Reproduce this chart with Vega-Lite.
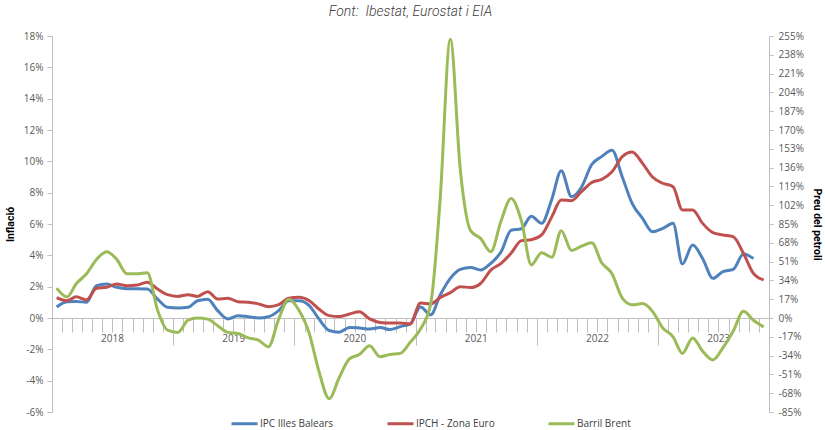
{
  "$schema": "https://vega.github.io/schema/vega-lite/v6.json",
  "width": 717,
  "height": 376,
  "autosize": {"type": "none"},
  "padding": {"left": 52, "top": 36, "right": 56, "bottom": 18},
  "background": "white",
  "title": {
    "text": "Font:\u00a0 Ibestat, Eurostat i EIA",
    "font": "Roboto",
    "fontSize": 14,
    "fontStyle": "italic",
    "fontWeight": 300,
    "color": "#404040",
    "anchor": "middle",
    "offset": 12
  },
  "config": {
    "view": {"stroke": null},
    "axis": {
      "labelFont": "Open Sans",
      "labelFontSize": 10,
      "labelColor": "#595959",
      "domainColor": "#bfbfbf",
      "tickColor": "#bfbfbf",
      "grid": false
    }
  },
  "data": {
    "values": [
      {"mes": "2018-01-15", "IPC Illes Balears": 0.7, "IPCH - Zona Euro": 1.3, "Barril Brent": 27},
      {"mes": "2018-02-15", "IPC Illes Balears": 1.04, "IPCH - Zona Euro": 1.1, "Barril Brent": 19},
      {"mes": "2018-03-15", "IPC Illes Balears": 1.06, "IPCH - Zona Euro": 1.36, "Barril Brent": 31},
      {"mes": "2018-04-15", "IPC Illes Balears": 1.0, "IPCH - Zona Euro": 1.15, "Barril Brent": 40},
      {"mes": "2018-05-15", "IPC Illes Balears": 2.06, "IPCH - Zona Euro": 1.9, "Barril Brent": 53},
      {"mes": "2018-06-15", "IPC Illes Balears": 2.17, "IPCH - Zona Euro": 1.96, "Barril Brent": 60},
      {"mes": "2018-07-15", "IPC Illes Balears": 1.96, "IPCH - Zona Euro": 2.17, "Barril Brent": 53},
      {"mes": "2018-08-15", "IPC Illes Balears": 1.87, "IPCH - Zona Euro": 2.06, "Barril Brent": 40},
      {"mes": "2018-09-15", "IPC Illes Balears": 1.87, "IPCH - Zona Euro": 2.1, "Barril Brent": 40},
      {"mes": "2018-10-15", "IPC Illes Balears": 1.85, "IPCH - Zona Euro": 2.28, "Barril Brent": 41},
      {"mes": "2018-11-15", "IPC Illes Balears": 1.2, "IPCH - Zona Euro": 1.85, "Barril Brent": 7},
      {"mes": "2018-12-15", "IPC Illes Balears": 0.68, "IPCH - Zona Euro": 1.49, "Barril Brent": -11},
      {"mes": "2019-01-15", "IPC Illes Balears": 0.64, "IPCH - Zona Euro": 1.38, "Barril Brent": -13},
      {"mes": "2019-02-15", "IPC Illes Balears": 0.68, "IPCH - Zona Euro": 1.49, "Barril Brent": -2},
      {"mes": "2019-03-15", "IPC Illes Balears": 1.1, "IPCH - Zona Euro": 1.38, "Barril Brent": 0},
      {"mes": "2019-04-15", "IPC Illes Balears": 1.2, "IPCH - Zona Euro": 1.68, "Barril Brent": -1},
      {"mes": "2019-05-15", "IPC Illes Balears": 0.47, "IPCH - Zona Euro": 1.21, "Barril Brent": -7},
      {"mes": "2019-06-15", "IPC Illes Balears": -0.06, "IPCH - Zona Euro": 1.26, "Barril Brent": -13},
      {"mes": "2019-07-15", "IPC Illes Balears": 0.15, "IPCH - Zona Euro": 1.04, "Barril Brent": -14},
      {"mes": "2019-08-15", "IPC Illes Balears": 0.08, "IPCH - Zona Euro": 1.0, "Barril Brent": -18},
      {"mes": "2019-09-15", "IPC Illes Balears": 0.0, "IPCH - Zona Euro": 0.9, "Barril Brent": -20},
      {"mes": "2019-10-15", "IPC Illes Balears": 0.08, "IPCH - Zona Euro": 0.72, "Barril Brent": -26},
      {"mes": "2019-11-15", "IPC Illes Balears": 0.47, "IPCH - Zona Euro": 0.85, "Barril Brent": -1},
      {"mes": "2019-12-15", "IPC Illes Balears": 1.1, "IPCH - Zona Euro": 1.26, "Barril Brent": 17},
      {"mes": "2020-01-15", "IPC Illes Balears": 1.1, "IPCH - Zona Euro": 1.32, "Barril Brent": 7},
      {"mes": "2020-02-15", "IPC Illes Balears": 0.79, "IPCH - Zona Euro": 1.1, "Barril Brent": -14},
      {"mes": "2020-03-15", "IPC Illes Balears": -0.06, "IPCH - Zona Euro": 0.57, "Barril Brent": -48},
      {"mes": "2020-04-15", "IPC Illes Balears": -0.8, "IPCH - Zona Euro": 0.15, "Barril Brent": -73},
      {"mes": "2020-05-15", "IPC Illes Balears": -0.91, "IPCH - Zona Euro": 0.09, "Barril Brent": -54},
      {"mes": "2020-06-15", "IPC Illes Balears": -0.6, "IPCH - Zona Euro": 0.26, "Barril Brent": -37},
      {"mes": "2020-07-15", "IPC Illes Balears": -0.64, "IPCH - Zona Euro": 0.4, "Barril Brent": -33},
      {"mes": "2020-08-15", "IPC Illes Balears": -0.7, "IPCH - Zona Euro": -0.06, "Barril Brent": -25},
      {"mes": "2020-09-15", "IPC Illes Balears": -0.6, "IPCH - Zona Euro": -0.28, "Barril Brent": -35},
      {"mes": "2020-10-15", "IPC Illes Balears": -0.74, "IPCH - Zona Euro": -0.32, "Barril Brent": -33},
      {"mes": "2020-11-15", "IPC Illes Balears": -0.55, "IPCH - Zona Euro": -0.32, "Barril Brent": -32},
      {"mes": "2020-12-15", "IPC Illes Balears": -0.38, "IPCH - Zona Euro": -0.38, "Barril Brent": -22},
      {"mes": "2021-01-15", "IPC Illes Balears": 0.7, "IPCH - Zona Euro": 0.96, "Barril Brent": -10},
      {"mes": "2021-02-15", "IPC Illes Balears": 0.2, "IPCH - Zona Euro": 0.9, "Barril Brent": 13},
      {"mes": "2021-03-15", "IPC Illes Balears": 1.45, "IPCH - Zona Euro": 1.3, "Barril Brent": 106},
      {"mes": "2021-04-15", "IPC Illes Balears": 2.53, "IPCH - Zona Euro": 1.62, "Barril Brent": 252},
      {"mes": "2021-05-15", "IPC Illes Balears": 3.1, "IPCH - Zona Euro": 2.0, "Barril Brent": 134},
      {"mes": "2021-06-15", "IPC Illes Balears": 3.23, "IPCH - Zona Euro": 1.94, "Barril Brent": 79},
      {"mes": "2021-07-15", "IPC Illes Balears": 3.06, "IPCH - Zona Euro": 2.2, "Barril Brent": 72},
      {"mes": "2021-08-15", "IPC Illes Balears": 3.49, "IPCH - Zona Euro": 3.06, "Barril Brent": 60},
      {"mes": "2021-09-15", "IPC Illes Balears": 4.23, "IPCH - Zona Euro": 3.49, "Barril Brent": 88},
      {"mes": "2021-10-15", "IPC Illes Balears": 5.6, "IPCH - Zona Euro": 4.13, "Barril Brent": 108},
      {"mes": "2021-11-15", "IPC Illes Balears": 5.7, "IPCH - Zona Euro": 4.94, "Barril Brent": 88},
      {"mes": "2021-12-15", "IPC Illes Balears": 6.5, "IPCH - Zona Euro": 5.0, "Barril Brent": 48},
      {"mes": "2022-01-15", "IPC Illes Balears": 6.04, "IPCH - Zona Euro": 5.3, "Barril Brent": 59},
      {"mes": "2022-02-15", "IPC Illes Balears": 7.6, "IPCH - Zona Euro": 6.47, "Barril Brent": 55},
      {"mes": "2022-03-15", "IPC Illes Balears": 9.4, "IPCH - Zona Euro": 7.53, "Barril Brent": 79},
      {"mes": "2022-04-15", "IPC Illes Balears": 7.74, "IPCH - Zona Euro": 7.49, "Barril Brent": 61},
      {"mes": "2022-05-15", "IPC Illes Balears": 8.35, "IPCH - Zona Euro": 8.06, "Barril Brent": 65},
      {"mes": "2022-06-15", "IPC Illes Balears": 9.8, "IPCH - Zona Euro": 8.65, "Barril Brent": 68},
      {"mes": "2022-07-15", "IPC Illes Balears": 10.3, "IPCH - Zona Euro": 8.85, "Barril Brent": 50},
      {"mes": "2022-08-15", "IPC Illes Balears": 10.7, "IPCH - Zona Euro": 9.34, "Barril Brent": 40},
      {"mes": "2022-09-15", "IPC Illes Balears": 9.0, "IPCH - Zona Euro": 10.3, "Barril Brent": 18},
      {"mes": "2022-10-15", "IPC Illes Balears": 7.3, "IPCH - Zona Euro": 10.6, "Barril Brent": 12},
      {"mes": "2022-11-15", "IPC Illes Balears": 6.36, "IPCH - Zona Euro": 9.87, "Barril Brent": 13},
      {"mes": "2022-12-15", "IPC Illes Balears": 5.5, "IPCH - Zona Euro": 9.0, "Barril Brent": 6},
      {"mes": "2023-01-15", "IPC Illes Balears": 5.72, "IPCH - Zona Euro": 8.6, "Barril Brent": -9},
      {"mes": "2023-02-15", "IPC Illes Balears": 6.04, "IPCH - Zona Euro": 8.38, "Barril Brent": -17},
      {"mes": "2023-03-15", "IPC Illes Balears": 3.45, "IPCH - Zona Euro": 6.9, "Barril Brent": -32},
      {"mes": "2023-04-15", "IPC Illes Balears": 4.66, "IPCH - Zona Euro": 6.9, "Barril Brent": -18},
      {"mes": "2023-05-15", "IPC Illes Balears": 3.8, "IPCH - Zona Euro": 6.04, "Barril Brent": -30},
      {"mes": "2023-06-15", "IPC Illes Balears": 2.53, "IPCH - Zona Euro": 5.45, "Barril Brent": -38},
      {"mes": "2023-07-15", "IPC Illes Balears": 2.96, "IPCH - Zona Euro": 5.3, "Barril Brent": -27},
      {"mes": "2023-08-15", "IPC Illes Balears": 3.1, "IPCH - Zona Euro": 5.19, "Barril Brent": -12},
      {"mes": "2023-09-15", "IPC Illes Balears": 4.08, "IPCH - Zona Euro": 4.13, "Barril Brent": 6},
      {"mes": "2023-10-15", "IPC Illes Balears": 3.8, "IPCH - Zona Euro": 2.85, "Barril Brent": -2},
      {"mes": "2023-11-15", "IPC Illes Balears": null, "IPCH - Zona Euro": 2.43, "Barril Brent": -8}
    ]
  },
  "layer": [
    {
      "transform": [{"fold": ["IPC Illes Balears", "IPCH - Zona Euro"], "as": ["serie", "valor"]}],
      "mark": {"type": "line", "interpolate": "monotone", "strokeWidth": 3},
      "encoding": {
        "x": {
          "field": "mes", "type": "temporal",
          "scale": {"type": "utc", "domain": [{"year": 2018, "month": 1, "date": 1, "utc": true}, {"year": 2023, "month": 12, "date": 1, "utc": true}]},
          "axis": {"orient": "bottom", "offset": -94, "tickCount": {"interval": "month", "step": 1}, "labels": false, "tickSize": 14, "title": null, "domain": true}
        },
        "y": {
          "field": "valor", "type": "quantitative",
          "scale": {"domain": [-6, 18], "nice": false, "zero": false},
          "axis": {
            "orient": "left",
            "values": [-6, -4, -2, 0, 2, 4, 6, 8, 10, 12, 14, 16, 18],
            "labelExpr": "datum.value + '%'",
            "tickSize": 5,
            "labelPadding": 4,
            "title": "Inflació",
            "titleFont": "Roboto",
            "titleFontSize": 10.5,
            "titleFontWeight": "bold",
            "titleColor": "#000000",
            "titlePadding": 8
          }
        },
        "color": {
          "field": "serie", "type": "nominal",
          "scale": {"domain": ["IPC Illes Balears", "IPCH - Zona Euro", "Barril Brent"], "range": ["#4F81BD", "#C0504D", "#9BBB59"]},
          "legend": {
            "orient": "none", "legendX": 178, "legendY": 373, "direction": "horizontal", "columns": 3,
            "title": null, "symbolType": "stroke", "symbolSize": 676, "symbolStrokeWidth": 3,
            "labelFont": "Open Sans", "labelFontSize": 10, "labelColor": "#404040", "labelOffset": 1,
            "columnPadding": 47, "padding": 0
          }
        }
      }
    },
    {
      "transform": [{"fold": ["Barril Brent"], "as": ["serie", "valor"]}],
      "mark": {"type": "line", "interpolate": "monotone", "strokeWidth": 3},
      "encoding": {
        "x": {
          "field": "mes", "type": "temporal",
          "scale": {"type": "utc", "domain": [{"year": 2018, "month": 1, "date": 1, "utc": true}, {"year": 2023, "month": 12, "date": 1, "utc": true}]},
          "axis": {"orient": "bottom", "offset": -94, "tickCount": {"interval": "year", "step": 1}, "format": "%Y", "tickSize": 27, "labelPadding": -12, "labelOffset": 60, "labelFlush": false, "labelOverlap": false, "domain": false, "title": null}
        },
        "y": {
          "field": "valor", "type": "quantitative",
          "scale": {"domain": [-85, 255], "nice": false, "zero": false},
          "axis": {
            "orient": "right",
            "values": [-85, -68, -51, -34, -17, 0, 17, 34, 51, 68, 85, 102, 119, 136, 153, 170, 187, 204, 221, 238, 255],
            "labelExpr": "datum.value + '%'",
            "tickSize": 4,
            "labelPadding": 5,
            "title": "Preu del petroli",
            "titleFont": "Roboto",
            "titleFontSize": 10.5,
            "titleFontWeight": "bold",
            "titleColor": "#000000",
            "titlePadding": 8
          }
        },
        "color": {"field": "serie", "type": "nominal"}
      }
    }
  ],
  "resolve": {"scale": {"y": "independent", "x": "independent"}}
}
